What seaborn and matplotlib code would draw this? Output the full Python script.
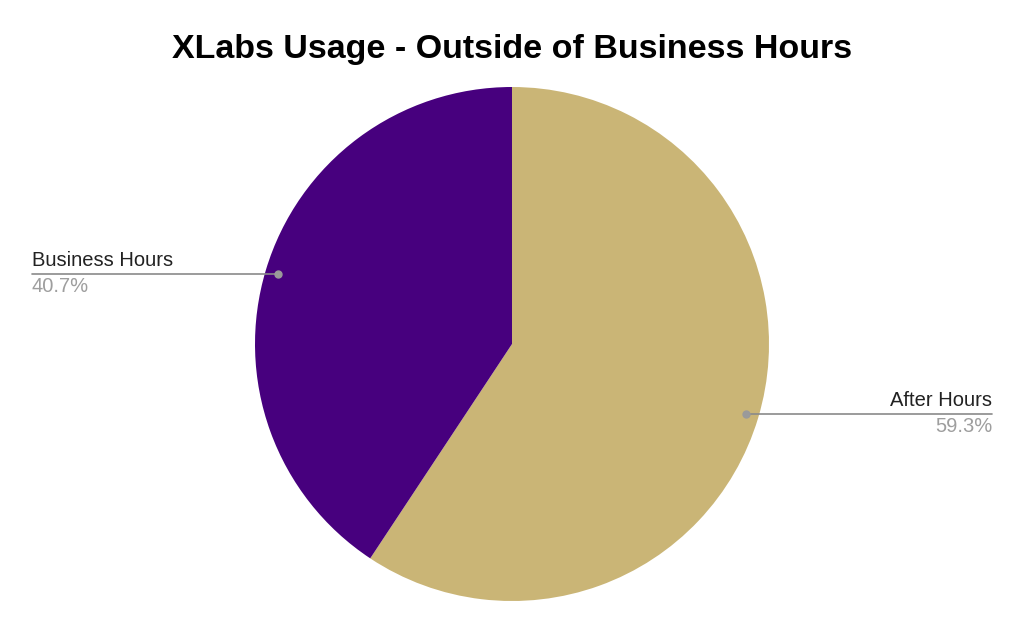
import numpy as np
import matplotlib
matplotlib.use("Agg")
import matplotlib.pyplot as plt
import seaborn as sns

labels = ["After Hours", "Business Hours"]
shares = [59.3, 40.7]
colors = ["#CAB576", "#47007E"]

sns.set_theme(style="white")
plt.rcParams["font.family"] = ["Liberation Sans", "DejaVu Sans"]

fig = plt.figure(figsize=(10.24, 6.32), dpi=100)
ax = fig.add_axes([0, 0, 1, 1])

cx, cy, r = 512, 288, 257
wedges, _ = ax.pie(shares, colors=colors, startangle=90, counterclock=False,
                   center=(cx, cy), radius=r, frame=True,
                   wedgeprops=dict(linewidth=0))
ax.set_xlim(0, 1024)
ax.set_ylim(0, 632)
ax.set_aspect("equal")
ax.axis("off")

# label leaders: dot inside wedge, horizontal line out to the text edge
for w, lab, val in zip(wedges, labels, shares):
    mid = np.deg2rad((w.theta1 + w.theta2) / 2)
    px = cx + 0.95 * r * np.cos(mid)
    py = cy + 0.95 * r * np.sin(mid)
    if np.cos(mid) < 0:
        ex, ha = 32, "left"
    else:
        ex, ha = 992, "right"
    ax.plot([px, ex], [py, py], color="#8a8a8a", lw=1.2, zorder=3)
    ax.plot(px, py, "o", color="#9a9a9a", ms=5, zorder=4)
    ax.text(ex, py + 4, lab, ha=ha, va="bottom", fontsize=14.5, color="#222222")
    ax.text(ex, py - 3, f"{val}%", ha=ha, va="top", fontsize=14.5, color="#9e9e9e")

fig.text(0.5, 0.922, "XLabs Usage - Outside of Business Hours", ha="center",
         va="center", fontsize=24.5, fontweight="bold", color="black")

fig.savefig("out.png", dpi=100, facecolor="white")
